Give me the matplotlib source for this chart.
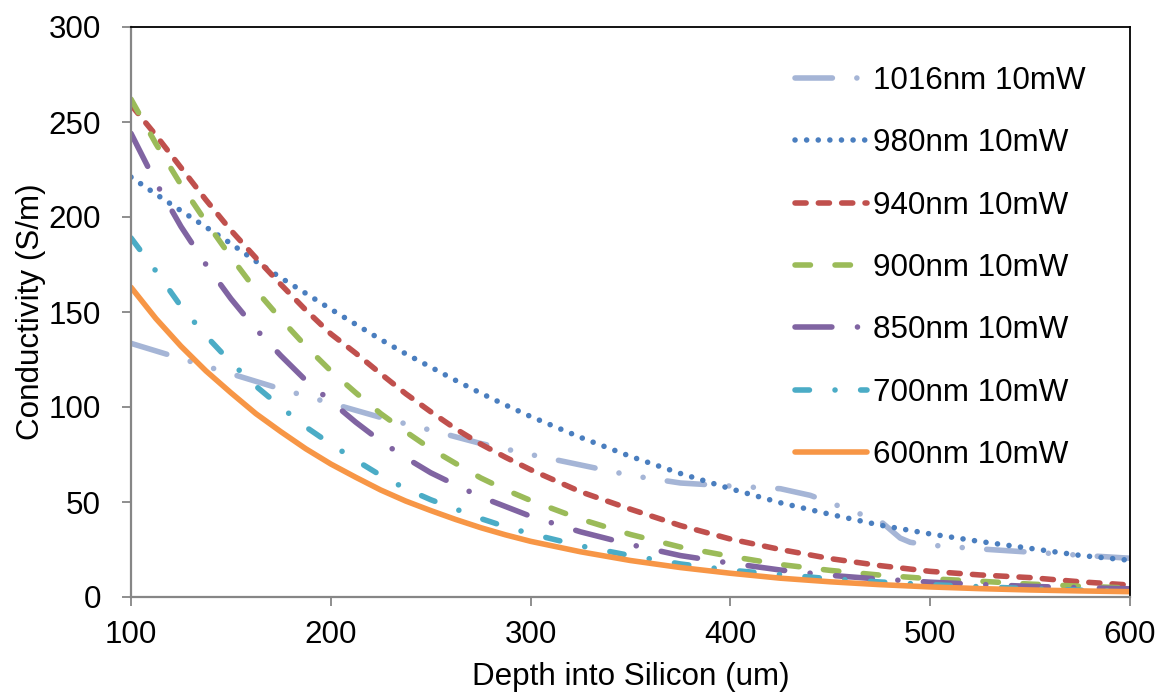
import matplotlib
matplotlib.use("Agg")
import matplotlib.pyplot as plt

plt.rcParams['font.family'] = ['Liberation Sans', 'DejaVu Sans']

depth = [100, 112.5, 125, 137.5, 150, 162.5, 175, 187.5, 200, 212.5, 225, 237.5,
         250, 262.5, 275, 287.5, 300, 325, 350, 375, 400,
         425, 450, 475, 500, 525, 550, 575, 600]

depth_1016 = [100, 125, 150, 175, 200, 225, 250, 275, 300, 325, 350, 375, 400,
              425, 440, 450, 460, 470, 475, 480, 485, 490, 500, 525, 550, 575, 600]
cond_1016 = [133.5, 125.5, 117.5, 109.5, 102, 94.5, 87.8, 80.8, 75, 69.5, 64, 60, 58.4,
             57, 53.5, 49.6, 45.6, 41.8, 40, 35.5, 31, 28.8, 27.3, 25.3, 23.6, 22, 20.4]
cond_980 = [221, 212, 203.3, 194.7, 186, 176.7, 168, 159.8, 151.5, 143.5, 135.5, 128,
            121, 114, 107.3, 101, 95, 84, 74, 65, 57,
            49.6, 43.5, 37.8, 33.2, 29.2, 25.6, 21.9, 19.3]
cond_940 = [259, 243, 226, 209, 193, 178.5, 164.5, 151, 138.5, 128.3, 117.5, 107,
            97.5, 88.5, 80.5, 73.5, 67, 55.4, 46.2, 37.6, 30.5,
            25, 20.2, 16.5, 13.5, 11.6, 10.2, 8, 6.3]
cond_900 = [262, 238.5, 217, 197.5, 179, 161.5, 146.3, 132, 119, 107.5, 96.5, 87,
            78, 70.3, 62.7, 56.4, 50.8, 41, 32.9, 26.3, 21.4,
            17.1, 14, 11.5, 9.6, 8.3, 6.8, 5.7, 4.7]
cond_850 = [244, 218, 195, 175, 157, 141, 127, 114, 103, 92, 82, 73.3,
            65.4, 59, 52.7, 47.6, 42.5, 34.3, 27.6, 21.8, 17.8,
            14.2, 11.4, 9.4, 7.8, 6.6, 5.6, 4.9, 4.3]
cond_700 = [189, 171.5, 153, 137.5, 123.5, 111, 100, 89.5, 80.5, 72, 64, 57,
            51.2, 46.3, 41.3, 37, 33.3, 26.9, 21.8, 17.4, 14.1,
            11.8, 9.6, 7.9, 6.5, 5.4, 4.4, 3.6, 3.0]
cond_600 = [163, 146.5, 132, 119, 107.5, 96.5, 87, 78, 70, 63, 56.3, 50.5,
            45.5, 40.8, 36.5, 32.7, 29.3, 23.8, 19.2, 15.5, 12.5,
            9.9, 8, 6.5, 5.3, 4.4, 3.7, 3.2, 2.8]

labels = ['1016nm 10mW', '980nm 10mW', '940nm 10mW', '900nm 10mW',
          '850nm 10mW', '700nm 10mW', '600nm 10mW']

fig = plt.figure(figsize=(11.62, 6.95), dpi=100)
ax = fig.add_axes([131/1162, 1 - 597/695, 999/1162, 570/695])

lw = 4.0
styles = [
    (depth_1016, cond_1016, '#A5B5D6', (0, (6.73, 4.4, 0.01, 4.4, 0.01, 4.4))),
    (depth, cond_980, '#4A7EBF', (0, (0.01, 2.08))),
    (depth, cond_940, '#C0504D', (0, (2.0, 2.2))),
    (depth, cond_900, '#9BBB59', (0, (2.78, 4.42))),
    (depth, cond_850, '#8064A2', (0, (6.64, 4.6, 0.01, 4.6))),
    (depth, cond_700, '#4BACC6', (0, (2.6, 4.6, 0.01, 4.6))),
    (depth, cond_600, '#F79646', '-'),
]
for (xs, ys, c, ls), lab in zip(styles, labels):
    ax.plot(xs, ys, color=c, lw=lw, linestyle=ls, label=lab,
            dash_capstyle='round', solid_capstyle='round', solid_joinstyle='round')

ax.set_xlim(100, 600)
ax.set_ylim(0, 300)
ax.set_xticks([100, 200, 300, 400, 500, 600])
ax.set_yticks([0, 50, 100, 150, 200, 250, 300])

fs = 22.6
ax.tick_params(axis='both', direction='out', length=6.5, width=1.3,
               color='#868686', labelsize=fs)
ax.tick_params(axis='y', pad=15)
ax.tick_params(axis='x', pad=10)

for s in ['left', 'bottom']:
    ax.spines[s].set_color('#868686')
    ax.spines[s].set_linewidth(1.6)
for s in ['top', 'right']:
    ax.spines[s].set_color('black')
    ax.spines[s].set_linewidth(1.3)

ax.set_xlabel('Depth into Silicon (um)', fontsize=fs)
ax.set_ylabel('Conductivity (S/m)', fontsize=fs)
ax.xaxis.set_label_coords(0.5, -0.114)
ax.yaxis.set_label_coords(-0.085, 0.5)

leg = ax.legend(loc='upper left', bbox_to_anchor=(795/1162, 1 - 66/695),
                bbox_transform=fig.transFigure, frameon=False, fontsize=fs,
                handlelength=2.3, handletextpad=0.2, labelspacing=1.03,
                borderpad=0, borderaxespad=0)

fig.savefig('out.png', dpi=100)
